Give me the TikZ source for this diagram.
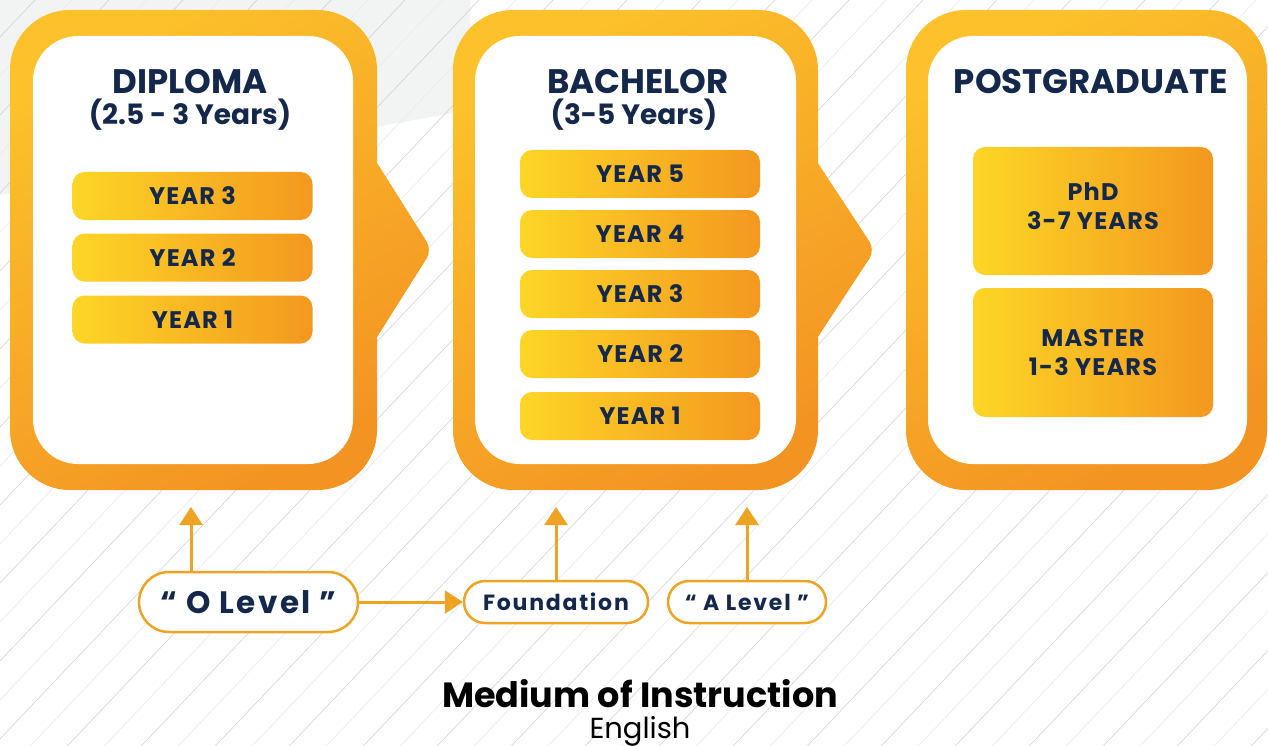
\documentclass[tikz,border=0pt]{standalone}
\usepackage{fontspec}
\setmainfont{Poppins}
\usetikzlibrary{arrows.meta}

\definecolor{navy}{HTML}{14284B}
\definecolor{frametop}{HTML}{FCC12B}
\definecolor{framebot}{HTML}{F39322}
\definecolor{baryellow}{HTML}{FDD626}
\definecolor{barorange}{HTML}{F3981F}
\definecolor{linkorange}{HTML}{EFA323}
\definecolor{bggray}{HTML}{F2F3F3}

\tikzset{
  frame/.style={top color=frametop, bottom color=framebot, shading angle=30},
  inner/.style={fill=white, rounded corners=45pt},
  bar/.style={left color=baryellow, right color=barorange, rounded corners=12pt,
    minimum width=240pt, minimum height=48pt, inner sep=0pt, text=navy,
    font=\fontsize{24}{29}\selectfont\bfseries\addfontfeature{LetterSpace=5}, align=center},
  title/.style={anchor=base, text=navy, font=\fontsize{34}{40}\selectfont\bfseries},
  subtitle/.style={anchor=base, text=navy, font=\fontsize{28}{34}\selectfont\bfseries},
  pill/.style={draw=linkorange, line width=2.5pt, fill=white, inner sep=0pt, text=navy},
  link/.style={draw=linkorange, line width=3pt, -{Triangle[width=23pt,length=18pt]}},
  bgline/.style={draw=gray!32, line width=0.7pt},
  bglinelight/.style={draw=gray!16, line width=0.7pt}
}

\begin{document}
\begin{tikzpicture}[x=1pt, y=-1pt]
  \useasboundingbox (0,0) rectangle (1268,746);

  % Background
  \begin{scope}
    \clip (0,0) rectangle (1268,746);
    \fill[bggray] (0,0) -- (470,0) -- (470,110) -- (0,195) -- cycle;
    \foreach \x in {-760,-686,...,1268}
      \draw[bgline] (\x,760) -- ++(740,-780);
    \foreach \x in {-723,-649,...,1268}
      \draw[bglinelight] (\x,760) -- ++(740,-780);
  \end{scope}

  % Diploma frame
  \shade[frame, rounded corners=60pt] (10,10) -- (10,490) -- (377,490) -- (377,10) -- cycle
    [rounded corners=10pt] (350,120) -- (350,380) -- (432,250) -- cycle;
  \fill[inner] (33,36) rectangle (353,464);

  % Bachelor frame
  \shade[frame, rounded corners=60pt] (453,10) -- (453,490) -- (818,490) -- (818,10) -- cycle
    [rounded corners=10pt] (791,122) -- (791,378) -- (875,250) -- cycle;
  \fill[inner] (475,36) rectangle (796,464);

  % Postgraduate frame
  \shade[frame, rounded corners=60pt] (906,10) -- (906,490) -- (1267,490) -- (1267,10) -- cycle;
  \fill[inner] (928,36) rectangle (1247,464);

  % Titles
  \node[title] (diploma) at (190,94) {DIPLOMA};
  \node[subtitle] (diplomayrs) at (190,125) {(2.5 - 3 Years)};
  \node[title] (bachelor) at (638,94) {BACHELOR};
  \node[subtitle] (bacheloryrs) at (634,125) {(3-5 Years)};
  \node[title] (postgrad) at (1091,94) {POSTGRADUATE};

  % Diploma years
  \node[bar] (dip3) at (192.5,196) {YEAR 3};
  \node[bar] (dip2) at (192.5,257.5) {YEAR 2};
  \node[bar] (dip1) at (192.5,319.5) {YEAR 1};

  % Bachelor years
  \node[bar] (bach5) at (640,174) {YEAR 5};
  \node[bar] (bach4) at (640,234) {YEAR 4};
  \node[bar] (bach3) at (640,294) {YEAR 3};
  \node[bar] (bach2) at (640,354) {YEAR 2};
  \node[bar] (bach1) at (640,416) {YEAR 1};

  % Postgraduate degrees
  \node[bar, minimum height=128pt, text depth=10pt] (phd) at (1093,211) {PhD\\3-7 YEARS};
  \node[bar, minimum height=129pt] (master) at (1093,352.5) {MASTER\\1-3 YEARS};

  % Entry levels
  \node[pill, minimum width=219pt, minimum height=60pt, rounded corners=30pt,
    font=\fontsize{31}{36}\selectfont\bfseries\addfontfeature{LetterSpace=8}] (olevel) at (248.5,602) {“ O Level ”};
  \node[pill, minimum width=184pt, minimum height=42pt, rounded corners=21pt,
    font=\fontsize{22}{26}\selectfont\bfseries\addfontfeature{LetterSpace=8}] (found) at (556,602) {Foundation};
  \node[pill, minimum width=158pt, minimum height=42pt, rounded corners=21pt,
    font=\fontsize{22}{26}\selectfont\bfseries\addfontfeature{LetterSpace=8}] (alevel) at (747,602) {“ A Level ”};

  \coordinate (dipin) at (191,507);
  \coordinate (bachin) at (556,507);
  \coordinate (bachina) at (747,507);

  % Arrows
  \draw[link] (olevel.north -| dipin) -- (dipin);
  \draw[link] (olevel) -- (found);
  \draw[link] (found.north) -- (bachin);
  \draw[link] (alevel.north) -- (bachina);

  % Medium
  \node[anchor=base, font=\fontsize{35}{40}\selectfont\bfseries] (medium) at (640,707) {Medium of Instruction};
  \node[anchor=base, font=\fontsize{29}{34}\selectfont] (english) at (640,738) {English};
\end{tikzpicture}
\end{document}
